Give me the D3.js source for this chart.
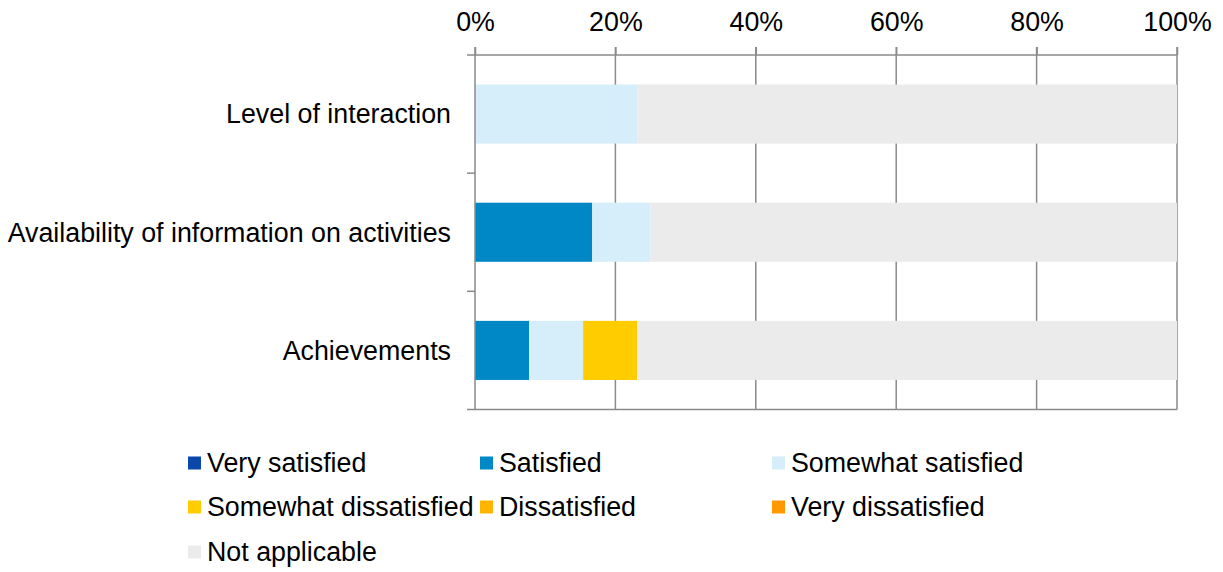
<!DOCTYPE html>
<html>
<head>
<meta charset="utf-8">
<script src="https://cdn.jsdelivr.net/npm/d3@7"></script>
<style>
  html, body { margin: 0; padding: 0; background: #fff; }
  svg { display: block; font-family: "Liberation Sans", Arial, sans-serif; }
</style>
</head>
<body>
<svg id="chart" width="1223" height="572"></svg>
<script>
// Survey responses, percent of respondents per item
const categories = [
  "Level of interaction",
  "Availability of information on activities",
  "Achievements"
];
const seriesNames = [
  "Very satisfied", "Satisfied", "Somewhat satisfied",
  "Somewhat dissatisfied", "Dissatisfied", "Very dissatisfied",
  "Not applicable"
];
const verySatisfied        = [0, 0, 0];
const satisfied            = [0, 16.7, 7.7];
const somewhatSatisfied    = [23.1, 8.3, 7.7];
const somewhatDissatisfied = [0, 0, 7.7];
const dissatisfied         = [0, 0, 0];
const veryDissatisfied     = [0, 0, 0];
const notApplicable        = [76.9, 75.0, 76.9];
const tickValues = [0, 20, 40, 60, 80, 100];

const seriesValues = [verySatisfied, satisfied, somewhatSatisfied,
  somewhatDissatisfied, dissatisfied, veryDissatisfied, notApplicable];
const colors = ["#0a47aa", "#0088c6", "#d6eef9", "#ffcc00", "#ffb400", "#ff9900", "#ebebeb"];

const rows = categories.map((c, i) => {
  const r = { category: c };
  seriesNames.forEach((s, j) => { r[s] = seriesValues[j][i]; });
  return r;
});

const svg = d3.select("#chart");
const margin = { left: 475, right: 46, top: 55, bottom: 163 };
const W = 1223, H = 572;

const x = d3.scaleLinear().domain([0, 100]).range([margin.left, W - margin.right]);
const y = d3.scaleBand().domain(categories)
  .range([margin.top, H - margin.bottom + 0.5])
  .paddingInner(0.5).paddingOuter(0.25);

const gridColor = "#8a8a8a";
const fontSize = 26.8;

// vertical gridlines
svg.append("g").selectAll("line")
  .data(tickValues.filter(d => d > 0))
  .join("line")
  .attr("x1", d => x(d)).attr("x2", d => x(d))
  .attr("y1", margin.top - 8).attr("y2", y.range()[1])
  .attr("stroke", gridColor).attr("stroke-width", 1.5);

// stacked bars
const stack = d3.stack().keys(seriesNames);
const layers = stack(rows);
svg.append("g").selectAll("g")
  .data(layers)
  .join("g")
  .attr("fill", (d, i) => colors[i])
  .selectAll("rect")
  .data(d => d)
  .join("rect")
  .attr("x", d => x(d[0]))
  .attr("width", d => x(d[1]) - x(d[0]))
  .attr("y", d => y(d.data.category))
  .attr("height", y.bandwidth());

// top axis with percent labels
const xAxis = d3.axisTop(x).tickValues(tickValues).tickFormat(d => d + "%").tickSize(8).tickSizeOuter(0);
const gx = svg.append("g").attr("transform", `translate(0,${margin.top})`).call(xAxis);
gx.select(".domain").remove();
gx.selectAll(".tick line").attr("stroke", gridColor).attr("stroke-width", 1.5);
gx.selectAll(".tick text")
  .attr("font-size", fontSize).attr("fill", "#000")
  .attr("font-family", "Liberation Sans, Arial, sans-serif")
  .attr("y", -24).attr("dy", 0);
svg.append("line")
  .attr("x1", margin.left - 8).attr("x2", x(100))
  .attr("y1", margin.top).attr("y2", margin.top)
  .attr("stroke", gridColor).attr("stroke-width", 1.5);

// bottom axis line
svg.append("line")
  .attr("x1", margin.left - 8).attr("x2", x(100))
  .attr("y1", y.range()[1]).attr("y2", y.range()[1])
  .attr("stroke", gridColor).attr("stroke-width", 1.5);

// left category axis, ticks between bands
svg.append("line")
  .attr("x1", x(0)).attr("x2", x(0))
  .attr("y1", margin.top - 8).attr("y2", y.range()[1])
  .attr("stroke", gridColor).attr("stroke-width", 1.5);
const boundaries = categories.slice(1).map(c => y(c) - y.step() * y.paddingInner() / 2);
svg.append("g").selectAll("line")
  .data(boundaries)
  .join("line")
  .attr("x1", x(0) - 8).attr("x2", x(0))
  .attr("y1", d => d).attr("y2", d => d)
  .attr("stroke", gridColor).attr("stroke-width", 1.5);

svg.append("g").selectAll("text")
  .data(categories)
  .join("text")
  .attr("x", x(0) - 24)
  .attr("y", d => y(d) + y.bandwidth() / 2)
  .attr("dy", "0.35em")
  .attr("text-anchor", "end")
  .attr("font-size", fontSize)
  .attr("fill", "#000")
  .text(d => d);

// legend, three columns
const legendCols = [188, 480, 772];
const legendRows = [463, 507, 552];
const legend = svg.append("g").selectAll("g")
  .data(seriesNames)
  .join("g")
  .attr("transform", (d, i) => `translate(${legendCols[i % 3]},${legendRows[Math.floor(i / 3)]})`);
legend.append("rect")
  .attr("x", 0).attr("y", -6.5).attr("width", 13).attr("height", 13)
  .attr("fill", (d, i) => colors[i]);
legend.append("text")
  .attr("x", 19).attr("y", 0).attr("dy", "0.35em")
  .attr("font-size", fontSize).attr("fill", "#000")
  .text(d => d);
</script>
</body>
</html>
